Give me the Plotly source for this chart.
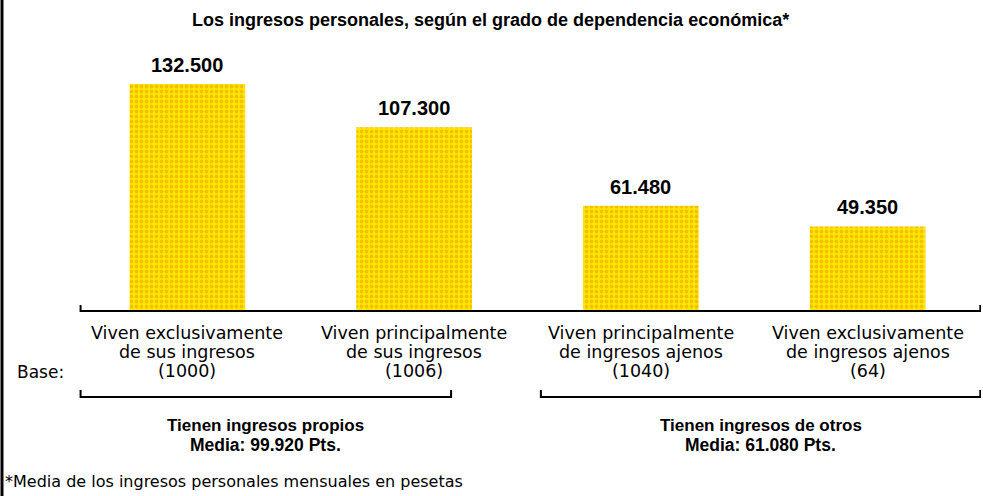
import plotly.graph_objects as go

categories = ["exc_prop", "pri_prop", "pri_aj", "exc_aj"]
values = [132500, 107300, 61480, 49350]
value_labels = ["132.500", "107.300", "61.480", "49.350"]
cat_line1 = ["Viven exclusivamente", "Viven principalmente",
             "Viven principalmente", "Viven exclusivamente"]
cat_line2 = ["de sus ingresos", "de sus ingresos",
             "de ingresos ajenos", "de ingresos ajenos"]
cat_base = ["(1000)", "(1006)", "(1040)", "(64)"]
group_line1 = ["Tienen ingresos propios", "Tienen ingresos de otros"]
group_line2 = ["Media: 99.920 Pts.", "Media: 61.080 Pts."]
title = "Los ingresos personales, según el grado de dependencia económica*"
footnote = "*Media de los ingresos personales mensuales en pesetas"

xi = list(range(len(categories)))

fig = go.Figure()
fig.add_trace(go.Bar(
    x=xi, y=values, width=0.51,
    marker=dict(color="#FFE600", line=dict(width=0),
                pattern=dict(shape=".", fgcolor="#E89A00", bgcolor="#FFE800",
                             size=5, solidity=0.45)),
    hoverinfo="skip",
))

LAB = "DejaVu Sans"
BOLD = "Liberation Sans"
ann = []
for x, v, t in zip(xi, values, value_labels):
    ann.append(dict(x=x, y=v, text="<b>" + t + "</b>", showarrow=False,
                    yanchor="middle", xanchor="center", yshift=19,
                    font=dict(family=BOLD, size=20, color="black")))
for lines, yy in [(cat_line1, -0.0856), (cat_line2, -0.1595), (cat_base, -0.2335)]:
    for x, t in zip(xi, lines):
        ann.append(dict(x=x, y=yy, yref="paper", text=t, showarrow=False,
                        yanchor="middle", xanchor="center",
                        font=dict(family=LAB, size=17.5, color="black")))
ann.append(dict(x=-0.0364, y=-0.2374, xref="paper", yref="paper", text="Base:",
                showarrow=False, xanchor="center", yanchor="middle",
                font=dict(family=LAB, size=17, color="black")))
group_x = [(-0.471 + 1.163) / 2, (1.559 + 3.497) / 2]
for lines, yy, fs in [(group_line1, -0.4436, 17), (group_line2, -0.5214, 17.5)]:
    for gx, t in zip(group_x, lines):
        ann.append(dict(x=gx, y=yy, yref="paper", text="<b>" + t + "</b>", showarrow=False,
                        yanchor="middle", xanchor="center",
                        font=dict(family=BOLD, size=fs, color="black")))
ann.append(dict(x=-0.0783, y=-0.6615, xref="paper", yref="paper", text=footnote,
                showarrow=False, xanchor="left", yanchor="middle",
                font=dict(family=LAB, size=16, color="black")))
ann.append(dict(x=0.4587, y=1.1323, xref="paper", yref="paper", text="<b>" + title + "</b>",
                showarrow=False, xanchor="center", yanchor="middle",
                font=dict(family=BOLD, size=18, color="black")))

shapes = []
lw = 2
shapes.append(dict(type="path", xref="x", yref="paper",
                   path="M -0.471,0.0233 L -0.471,0 L 3.497,0 L 3.497,0.0233",
                   line=dict(color="black", width=lw)))
for a, b in [(-0.471, 1.163), (1.559, 3.497)]:
    shapes.append(dict(type="path", xref="x", yref="paper",
                       path=f"M {a},-0.307 L {a},-0.3346 L {b},-0.3346 L {b},-0.307",
                       line=dict(color="black", width=lw)))
shapes.append(dict(type="line", xref="paper", yref="paper",
                   x0=-0.0794, x1=-0.0794, y0=-1.0, y1=1.3,
                   line=dict(color="black", width=3)))

fig.update_layout(
    width=983, height=496,
    margin=dict(l=74, r=2, t=54, b=185),
    paper_bgcolor="white", plot_bgcolor="white",
    showlegend=False,
    xaxis=dict(range=[-0.5, 3.5], showticklabels=False, showgrid=False,
               zeroline=False, showline=False, ticks=""),
    yaxis=dict(range=[0, 150000], visible=False),
    annotations=ann, shapes=shapes,
)
fig.write_html("out.html", config={"displayModeBar": False},
               post_script="document.body.style.margin='0';")
